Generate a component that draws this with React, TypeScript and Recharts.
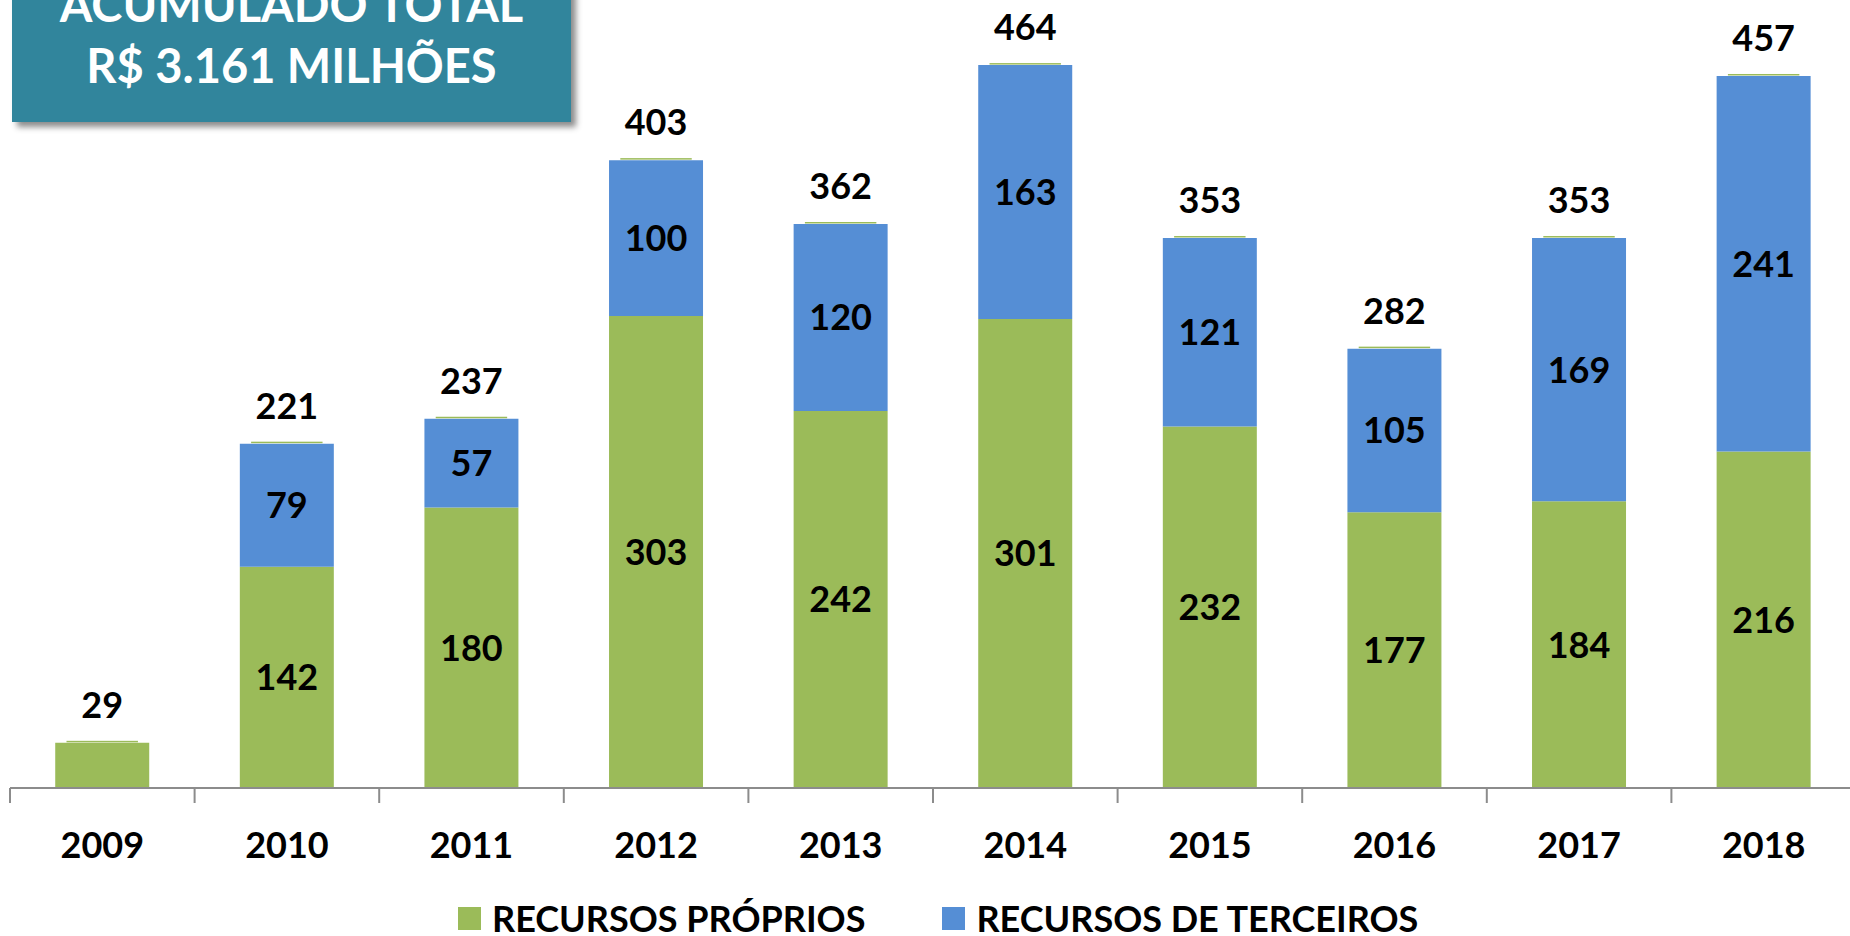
import React from "react";
import { BarChart, Bar, XAxis, YAxis, LabelList, Legend } from "recharts";

// values (R$ milhões)
const anos = ["2009", "2010", "2011", "2012", "2013", "2014", "2015", "2016", "2017", "2018"];
const recursosProprios = [29, 142, 180, 303, 242, 301, 232, 177, 184, 216];
const recursosTerceiros = [0, 79, 57, 100, 120, 163, 121, 105, 169, 241];
const totais = [29, 221, 237, 403, 362, 464, 353, 282, 353, 457];
const legendOrder = ["RECURSOS PRÓPRIOS", "RECURSOS DE TERCEIROS"];

const GREEN = "#9BBB59";
const BLUE = "#558ED5";
const AXIS = "#8C8C8C";
const FONT = "Lato, 'Open Sans', sans-serif";

const data = anos.map((ano, i) => ({
  ano,
  proprios: recursosProprios[i],
  terceiros: recursosTerceiros[i],
  total: totais[i],
}));

// year label plus the small tick marks between categories
const YearTick = (props: any) => {
  const { x, y, payload, index, width } = props;
  const half = payload.offset || width / anos.length / 2;
  const last = index === anos.length - 1;
  return (
    <g>
      <line x1={x - half} y1={y} x2={x - half} y2={y + 15} stroke={AXIS} strokeWidth={2} />
      {last && <line x1={x + half} y1={y} x2={x + half} y2={y + 15} stroke={AXIS} strokeWidth={2} />}
      <text x={x} y={y + 70} textAnchor="middle" fontFamily={FONT} fontWeight={700} fontSize={36} fill="#000">
        {payload.value}
      </text>
    </g>
  );
};

// value inside a segment, skipped when the segment is too short to hold it
const SegmentLabel = (props: any) => {
  const vb = props.viewBox || props;
  const { x, y, width, height } = vb;
  if (!props.value || Math.abs(height) < 55) return null;
  return (
    <text
      x={x + width / 2}
      y={y + height / 2}
      dy="0.36em"
      textAnchor="middle"
      fontFamily={FONT}
      fontWeight={700}
      fontSize={36}
      fill="#000"
    >
      {props.value}
    </text>
  );
};

// thin total marker sitting on top of each stack
const TopMark = (props: any) => {
  const { x, y, width } = props;
  return <rect x={x + width * 0.12} y={y} width={width * 0.76} height={1.5} fill={GREEN} />;
};

const renderLegend = (props: any) => {
  const items = (props.payload || [])
    .filter((p: any) => legendOrder.includes(p.value))
    .sort((a: any, b: any) => legendOrder.indexOf(a.value) - legendOrder.indexOf(b.value));
  return (
    <div style={{ display: "flex", alignItems: "center", paddingLeft: 458 }}>
      {items.map((p: any) => (
        <div key={p.value} style={{ display: "flex", alignItems: "center", marginRight: 77 }}>
          <span style={{ display: "inline-block", width: 23, height: 23, background: p.color, marginRight: 11 }} />
          <span style={{ fontFamily: FONT, fontWeight: 700, fontSize: 36, color: "#000", lineHeight: "34px" }}>
            {p.value}
          </span>
        </div>
      ))}
    </div>
  );
};

export default function App() {
  return (
    <div style={{ position: "absolute", left: 0, top: 0, width: 1850, height: 936, overflow: "hidden", background: "#fff" }}>
      <BarChart
        width={1860}
        height={936}
        data={data}
        margin={{ top: 9, right: 4, left: 10, bottom: 118 }}
        barCategoryGap="24.5%"
      >
        <YAxis hide domain={[0, 500]} />
        <XAxis
          dataKey="ano"
          height={30}
          axisLine={{ stroke: AXIS, strokeWidth: 2 }}
          tickLine={false}
          tickSize={0}
          tickMargin={0}
          tick={<YearTick />}
          interval={0}
        />
        <Legend
          layout="horizontal"
          verticalAlign="middle"
          align="center"
          content={renderLegend}
          wrapperStyle={{ top: 901, left: 0, width: 1850 }}
        />
        <Bar dataKey="proprios" name="RECURSOS PRÓPRIOS" stackId="a" fill={GREEN} isAnimationActive={false}>
          <LabelList dataKey="proprios" content={<SegmentLabel />} />
        </Bar>
        <Bar dataKey="terceiros" name="RECURSOS DE TERCEIROS" stackId="a" fill={BLUE} isAnimationActive={false}>
          <LabelList dataKey="terceiros" content={<SegmentLabel />} />
        </Bar>
        <Bar
          dataKey={() => 0}
          name="total"
          stackId="a"
          fill={GREEN}
          minPointSize={2}
          legendType="none"
          shape={<TopMark />}
          isAnimationActive={false}
        >
          <LabelList
            dataKey="total"
            position="top"
            offset={23}
            fill="#000"
            fontSize={36}
            fontWeight={700}
            fontFamily={FONT}
          />
        </Bar>
      </BarChart>
      <div
        style={{
          position: "absolute",
          left: 12,
          top: -62,
          width: 559,
          height: 184,
          paddingTop: 36,
          boxSizing: "border-box",
          background: "#31859C",
          boxShadow: "5px 5px 6px rgba(0,0,0,0.45)",
          color: "#fff",
          fontFamily: FONT,
          fontWeight: 700,
          fontSize: 47,
          lineHeight: "61px",
          textAlign: "center",
        }}
      >
        <div>ACUMULADO TOTAL</div>
        <div>R$ 3.161 MILHÕES</div>
      </div>
    </div>
  );
}
